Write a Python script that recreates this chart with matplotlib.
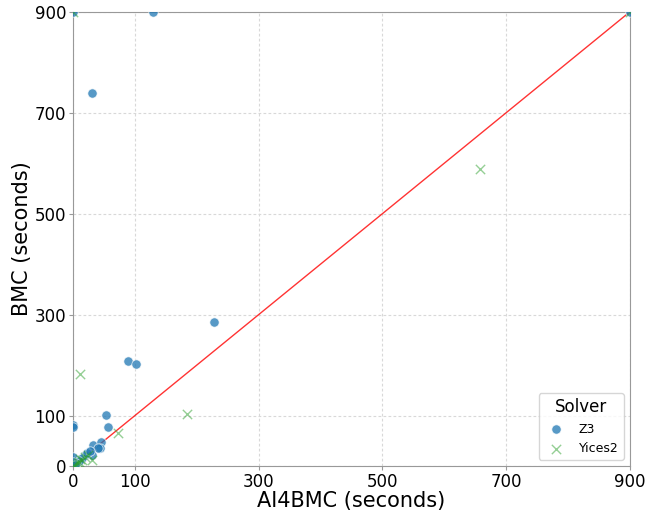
import matplotlib
matplotlib.use('Agg')
import matplotlib.pyplot as plt

# Z3 points (AI4BMC seconds, BMC seconds)
z3_x = [0, 130, 900, 31, 228, 89, 102, 54, 56, 0, 0, 0, 33, 46, 43, 40, 31, 19, 15, 10, 5, 0, 0, 3, 22, 28]
z3_y = [900, 900, 900, 740, 285, 208, 202, 101, 78, 81, 78, 18, 42, 47, 35, 36, 22, 22, 16, 10, 6, 0, 8, 3, 25, 30]

# Yices2 points
y2_x = [0, 900, 658, 11, 184, 73, 30, 20, 15, 10, 5, 2, 0, 25, 8, 12]
y2_y = [900, 900, 588, 182, 103, 65, 13, 18, 12, 8, 4, 2, 0, 22, 6, 14]

ticks = [0, 100, 300, 500, 700, 900]

fig = plt.figure(figsize=(6.46, 5.15), dpi=100)
ax = fig.add_axes([0.113, 0.095, 0.862, 0.882])

ax.grid(True, linestyle=(0, (2.5, 2)), color='#d8d8d8', linewidth=0.8)
ax.set_axisbelow(True)

ax.plot([0, 900], [0, 900], color='red', linewidth=1, alpha=0.8, zorder=2)

ax.scatter(z3_x, z3_y, s=45, color='#1f77b4', alpha=0.75, edgecolors='white',
           linewidths=0.6, label='Z3', zorder=3)
ax.scatter(y2_x, y2_y, s=45, marker='x', color='#2ca02c', alpha=0.5,
           linewidths=1, label='Yices2', zorder=3)

ax.set_xlim(0, 900)
ax.set_ylim(0, 900)
ax.set_xticks(ticks)
ax.set_yticks(ticks)
ax.tick_params(length=3, color='#999999', labelsize=12, pad=2)

for s in ax.spines.values():
    s.set_color('#999999')

ax.set_xlabel('AI4BMC (seconds)', fontsize=15, labelpad=0)
ax.set_ylabel('BMC (seconds)', fontsize=15, labelpad=2)

leg = ax.legend(title='Solver', loc='lower right', fontsize=9, title_fontsize=12)

fig.savefig('out.png', dpi=100)
